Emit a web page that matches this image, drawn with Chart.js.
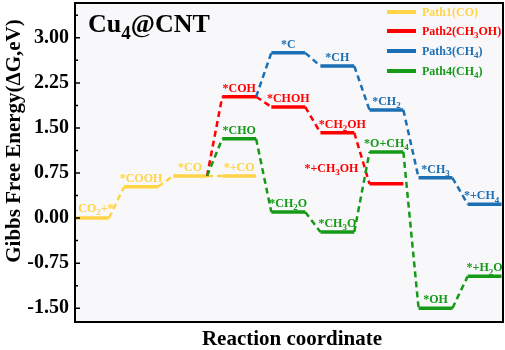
<!DOCTYPE html>
<html>
<head>
<meta charset="utf-8">
<script src="https://cdn.jsdelivr.net/npm/chart.js"></script>
<style>
  body { margin: 0; background: #fff; }
  #wrap { width: 505px; height: 350px; }
</style>
</head>
<body>
<div id="wrap"><canvas id="myChart" width="505" height="350"></canvas></div>
<script>
// posisi tiap tahap reaksi (indeks level)
var steps = [0, 1, 2, 3, 4, 5, 6, 7, 8];

// energi bebas (eV); null = jalur tidak lewat tahap itu
// nilai pertama di path2..path4 = titik cabang (levelnya milik jalur lain)
var path1 = [0.00, 0.52, 0.70, 0.70];
var path2 = [null, null, 0.70, 2.02, 1.85, 1.42, 0.57];
var path3 = [null, null, null, 2.02, 2.75, 2.53, 1.80, 0.67, 0.23];
var path4 = [null, null, 0.70, 1.32, 0.10, -0.23, 1.10, -1.50, -0.97];

// label tiap level, "_" = karakter berikutnya subscript
var path1Labels = ['CO_2+*', '*COOH', '*CO', '*+CO'];
var path2Labels = [null, null, null, '*COH', '*CHOH', '*CH_2OH', '*+CH_3OH'];
var path3Labels = [null, null, null, null, '*C', '*CH', '*CH_2', '*CH_3', '*+CH_4'];
var path4Labels = [null, null, null, '*CHO', '*CH_2O', '*CH_3O', '*O+CH_4', '*OH', '*+H_2O'];

var legendNames = ['Path1(CO)', 'Path2(CH_3OH)', 'Path3(CH_4)', 'Path4(CH_4)'];
var yTicks = [-1.50, -0.75, 0.00, 0.75, 1.50, 2.25, 3.00];

var colors = ['#FFD447', '#FF0000', '#1B6FB4', '#159A18'];
var LW = 0.69; // lebar level dalam satuan tahap
var serif = '"Liberation Serif", "Times New Roman", serif';

var paths = [path1, path2, path3, path4];
var pathLabels = [path1Labels, path2Labels, path3Labels, path4Labels];

// garis level (solid)
function levelPoints(vals, labels) {
    var pts = [];
    for (var i = 0; i < vals.length; i++) {
        if (vals[i] === null || labels[i] === null) continue;
        pts.push({x: steps[i], y: vals[i]}, {x: steps[i] + LW, y: vals[i]}, {x: steps[i] + LW, y: null});
    }
    return pts;
}

// garis penghubung (putus-putus)
function linkPoints(vals) {
    var pts = [];
    for (var i = 1; i < vals.length; i++) {
        if (vals[i] === null || vals[i - 1] === null) continue;
        pts.push({x: steps[i - 1] + LW, y: vals[i - 1]}, {x: steps[i], y: vals[i]}, {x: steps[i], y: null});
    }
    return pts;
}

var datasets = [];
// dataset pertama digambar paling atas, jadi hijau dulu
for (var p = paths.length - 1; p >= 0; p--) {
    datasets.push({
        data: levelPoints(paths[p], pathLabels[p]),
        borderColor: colors[p],
        borderWidth: 3.5,
        pointRadius: 0,
        spanGaps: false
    });
    datasets.push({
        data: linkPoints(paths[p]),
        borderColor: colors[p],
        borderWidth: 2.5,
        borderDash: [6, 4],
        pointRadius: 0,
        spanGaps: false
    });
}

// tulis teks dengan subscript
function drawRich(ctx, str, x, y, size, color, align) {
    var parts = [];
    for (var i = 0; i < str.length; i++) {
        if (str[i] === '_') { parts.push({t: str[i + 1], sub: true}); i++; }
        else parts.push({t: str[i], sub: false});
    }
    var big = 'bold ' + size + 'px ' + serif;
    var small = 'bold ' + Math.round(size * 0.72) + 'px ' + serif;
    var w = 0;
    parts.forEach(function(q) {
        ctx.font = q.sub ? small : big;
        q.w = ctx.measureText(q.t).width;
        w += q.w;
    });
    var cx = align === 'center' ? x - w / 2 : x;
    ctx.fillStyle = color;
    ctx.textAlign = 'left';
    ctx.textBaseline = 'alphabetic';
    parts.forEach(function(q) {
        ctx.font = q.sub ? small : big;
        ctx.fillText(q.t, cx, q.sub ? y + size * 0.28 : y);
        cx += q.w;
    });
}

// geser label yang tidak tepat di atas level
var labelShift = { '*+CH_3OH': [-55, -7], 'CO_2+*': [4, -1], '*CH_2OH': [5, 0], '*+CH_4': [-3, 0] };

var decor = {
    id: 'decor',
    beforeDatasetsDraw: function(chart) {
        var a = chart.chartArea, ctx = chart.ctx;
        ctx.save();
        ctx.fillStyle = '#f8f7f9';
        ctx.fillRect(a.left, a.top, a.right - a.left, a.bottom - a.top);
        ctx.restore();
    },
    afterDatasetsDraw: function(chart) {
        var a = chart.chartArea, ctx = chart.ctx;
        var xs = chart.scales.x, ys = chart.scales.y;
        ctx.save();

        // label level
        for (var p = 0; p < paths.length; p++) {
            for (var i = 0; i < paths[p].length; i++) {
                var lab = pathLabels[p][i];
                if (!lab) continue;
                var sh = labelShift[lab] || [0, 0];
                var px = xs.getPixelForValue(steps[i] + LW / 2) + sh[0];
                var py = ys.getPixelForValue(paths[p][i]) - 5 + sh[1];
                drawRich(ctx, lab, px, py, 12, colors[p], 'center');
            }
        }

        // bingkai
        ctx.strokeStyle = '#000';
        ctx.lineWidth = 2;
        ctx.strokeRect(a.left, a.top, a.right - a.left, a.bottom - a.top);

        // tick ke dalam (mayor dan minor)
        ctx.lineWidth = 1.5;
        ctx.beginPath();
        yTicks.forEach(function(v) {
            var y = ys.getPixelForValue(v);
            ctx.moveTo(a.left, y); ctx.lineTo(a.left + 5, y);
            var ym = ys.getPixelForValue(v + 0.375);
            if (ym > a.top) { ctx.moveTo(a.left, ym); ctx.lineTo(a.left + 3, ym); }
        });
        ctx.stroke();

        // legenda
        var rows = [12, 31, 51, 71];
        for (var k = 0; k < legendNames.length; k++) {
            ctx.strokeStyle = colors[k];
            ctx.lineWidth = 4;
            ctx.beginPath();
            ctx.moveTo(387, rows[k]); ctx.lineTo(416, rows[k]);
            ctx.stroke();
            drawRich(ctx, legendNames[k], 422, rows[k] + 4, 12, colors[k], 'left');
        }

        // judul panel
        drawRich(ctx, 'Cu_4@CNT', 88, 32, 26, '#000', 'left');

        // judul sumbu
        drawRich(ctx, 'Reaction coordinate', 292, 345, 21, '#000', 'center');
        ctx.translate(20, 141);
        ctx.rotate(-Math.PI / 2);
        drawRich(ctx, 'Gibbs Free Energy(\u0394G,eV)', 0, 0, 21, '#000', 'center');
        ctx.restore();
    }
};

var ctx = document.getElementById('myChart').getContext('2d');
var chart = new Chart(ctx, {
    type: 'line',
    data: { datasets: datasets },
    options: {
        responsive: false,
        animation: false,
        layout: { padding: { top: 3, right: 2, bottom: 28, left: 0 } },
        plugins: {
            legend: { display: false },
            tooltip: { enabled: false }
        },
        scales: {
            x: {
                type: 'linear',
                min: 0,
                max: 8.72,
                display: false
            },
            y: {
                min: -1.73,
                max: 3.58,
                afterBuildTicks: function(scale) {
                    scale.ticks = yTicks.map(function(v) { return {value: v}; });
                },
                afterFit: function(scale) {
                    scale.width = 75;
                    scale.paddingTop = 0;
                    scale.paddingBottom = 0;
                },
                grid: { display: false, drawTicks: false },
                border: { display: false },
                ticks: {
                    autoSkip: false,
                    padding: 6,
                    color: '#000',
                    font: { family: serif, size: 20, weight: 'bold' },
                    callback: function(v) { return v.toFixed(2); }
                }
            }
        }
    },
    plugins: [decor]
});
</script>
</body>
</html>
